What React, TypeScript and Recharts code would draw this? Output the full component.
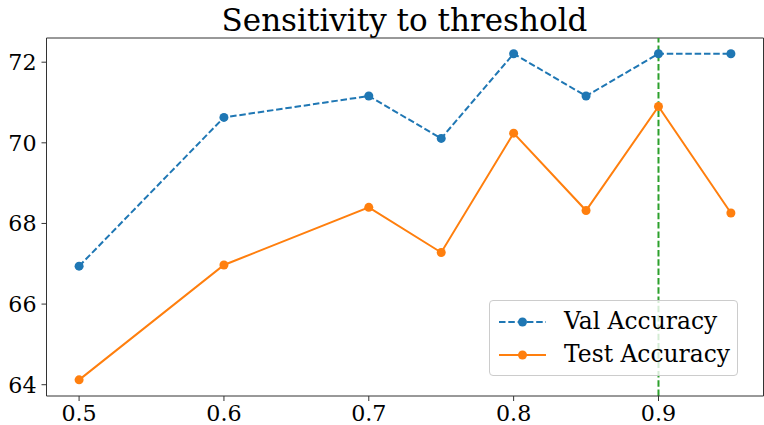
import React from "react";
import { LineChart, Line, XAxis, YAxis, ReferenceLine } from "recharts";

const thresholds = [0.5, 0.6, 0.7, 0.75, 0.8, 0.85, 0.9, 0.95];
const valAccuracy = [66.94, 70.63, 71.16, 70.11, 72.21, 71.16, 72.21, 72.21];
const testAccuracy = [64.12, 66.97, 68.4, 67.28, 70.24, 68.32, 70.9, 68.26];
const xTicks = [0.5, 0.6, 0.7, 0.8, 0.9];
const yTicks = [64, 66, 68, 70, 72];
const chosenThreshold = 0.9;

const X_DOMAIN: [number, number] = [0.4775, 0.9725];
const Y_DOMAIN: [number, number] = [63.72, 72.6];

const data = thresholds.map((t, i) => ({
  t,
  val: valAccuracy[i],
  test: testAccuracy[i],
}));

const FONT = "'DejaVu Serif', serif";
const BLUE = "#1f77b4";
const ORANGE = "#ff7f0e";
const GREEN = "#2ca02c";
const SPINE = "#333";
const DASH = "6.5 2.8";

const legendItems = [
  { label: "Val Accuracy", color: BLUE, dash: DASH },
  { label: "Test Accuracy", color: ORANGE, dash: undefined },
];

function LegendBox() {
  return (
    <div
      style={{
        position: "absolute",
        left: 489,
        top: 300,
        width: 249,
        height: 76,
        border: "1px solid #cccccc",
        borderRadius: 4,
        background: "rgba(255,255,255,0.8)",
        boxSizing: "border-box",
        padding: "4px 0 0 9px",
        fontFamily: FONT,
        fontSize: 23.4,
        color: "#000",
      }}
    >
      {legendItems.map((it) => (
        <div
          key={it.label}
          style={{ display: "flex", alignItems: "center", height: 33 }}
        >
          <svg width={47} height={12} style={{ marginRight: 18 }}>
            <line
              x1={0}
              y1={6}
              x2={47}
              y2={6}
              stroke={it.color}
              strokeWidth={2}
              strokeDasharray={it.dash}
            />
            <circle cx={23.5} cy={6} r={4.5} fill={it.color} />
          </svg>
          <span style={{ lineHeight: 1 }}>{it.label}</span>
        </div>
      ))}
    </div>
  );
}

export default function App() {
  return (
    <div
      style={{
        position: "absolute",
        left: 0,
        top: 0,
        width: 764,
        height: 425,
        background: "#fff",
      }}
    >
      <div
        style={{
          position: "absolute",
          top: 5,
          left: 46,
          width: 717,
          textAlign: "center",
          fontFamily: FONT,
          fontSize: 31,
          lineHeight: 1,
          color: "#000",
        }}
      >
        Sensitivity to threshold
      </div>
      <LineChart
        width={764}
        height={425}
        data={data}
        margin={{ top: 38, right: 0.5, bottom: 0, left: 0 }}
      >
        <XAxis
          dataKey="t"
          type="number"
          domain={X_DOMAIN}
          allowDataOverflow
          ticks={xTicks}
          tickFormatter={(v: number) => v.toFixed(1)}
          height={29}
          tickSize={5}
          tickMargin={4}
          stroke={SPINE}
          tick={{ fill: "#000", fontFamily: FONT, fontSize: 22.2 }}
        />
        <YAxis
          type="number"
          domain={Y_DOMAIN}
          allowDataOverflow
          ticks={yTicks}
          width={46.5}
          tickSize={5}
          tickMargin={5}
          stroke={SPINE}
          tick={{ fill: "#000", fontFamily: FONT, fontSize: 22.2 }}
        />
        {/* top and right spines */}
        <ReferenceLine y={Y_DOMAIN[1]} stroke={SPINE} strokeWidth={1} />
        <ReferenceLine x={X_DOMAIN[1]} stroke={SPINE} strokeWidth={1} />
        <Line
          type="linear"
          dataKey="val"
          name="Val Accuracy"
          stroke={BLUE}
          strokeWidth={2}
          strokeDasharray={DASH}
          dot={{ r: 4.5, fill: BLUE, stroke: "none", strokeDasharray: "" }}
          activeDot={false}
          isAnimationActive={false}
        />
        <Line
          type="linear"
          dataKey="test"
          name="Test Accuracy"
          stroke={ORANGE}
          strokeWidth={2}
          dot={{ r: 4.5, fill: ORANGE, stroke: "none" }}
          activeDot={false}
          isAnimationActive={false}
        />
        <ReferenceLine
          x={chosenThreshold}
          stroke={GREEN}
          strokeWidth={2}
          strokeDasharray={DASH}
        />
      </LineChart>
      <LegendBox />
    </div>
  );
}
